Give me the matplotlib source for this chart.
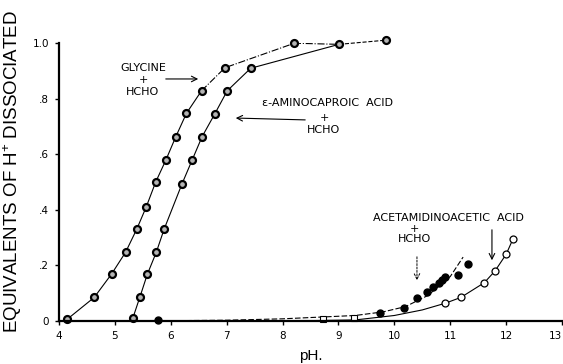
import matplotlib
matplotlib.use("Agg")
import matplotlib.pyplot as plt

# ---- data ----
gly_ph = [4.15, 4.63, 4.94, 5.19, 5.39, 5.56, 5.73, 5.91, 6.09, 6.28, 6.55, 6.97, 8.21]
gly_eq = [0.007, 0.085, 0.169, 0.247, 0.330, 0.410, 0.500, 0.578, 0.663, 0.747, 0.828, 0.911, 0.999]

amc_ph = [5.32, 5.45, 5.58, 5.74, 5.88, 6.20, 6.38, 6.56, 6.79, 7.01, 7.43, 9.01, 9.85]
amc_eq = [0.010, 0.088, 0.168, 0.247, 0.330, 0.493, 0.578, 0.663, 0.746, 0.828, 0.909, 0.995, 1.010]

# acetamidinoacetic acid + HCHO (filled)
ach_ph = [5.78, 9.74, 10.17, 10.41, 10.58, 10.70, 10.79, 10.85, 10.91, 11.14, 11.32]
ach_eq = [0.005, 0.030, 0.046, 0.084, 0.105, 0.123, 0.136, 0.147, 0.159, 0.165, 0.205]
ach_curve_ph = [5.3, 7.0, 8.0, 9.3, 9.8, 10.2, 10.6, 11.0, 11.23]
ach_curve_eq = [0.0, 0.003, 0.008, 0.020, 0.033, 0.052, 0.092, 0.160, 0.230]

# acetamidinoacetic acid alone (open)
aca_ph = [10.91, 11.19, 11.61, 11.80, 12.00, 12.12]
aca_eq = [0.064, 0.085, 0.138, 0.180, 0.240, 0.294]
aca_curve_ph = [5.5, 8.0, 9.3, 10.0, 10.5, 10.91, 11.19, 11.61, 11.80, 12.00, 12.12]
aca_curve_eq = [0.0, 0.0, 0.004, 0.020, 0.040, 0.064, 0.085, 0.138, 0.180, 0.240, 0.294]

sq_ph = [8.73, 9.27]
sq_eq = [0.008, 0.012]

x_ticks = [4, 5, 6, 7, 8, 9, 10, 11, 12, 13]
y_ticks = [0, 0.2, 0.4, 0.6, 0.8, 1.0]
y_labels = ["0", ".2", ".4", ".6", ".8", "1.0"]

plt.rcParams["mathtext.default"] = "regular"

fig = plt.figure(figsize=(5.63, 3.64), dpi=100)
ax = fig.add_axes([0.1048, 0.118, 0.8935, 0.764])


def px(x):
    # reference pixel -> pH
    return 4 + (x - 59) / 55.9


def py(y):
    # reference pixel -> equivalents
    return (321 - y) / 278


lw = 0.8
# glycine: solid lower part, dash-dot top
ax.plot(gly_ph[:11], gly_eq[:11], "-", color="k", lw=lw)
ax.plot(gly_ph[10:] + [amc_ph[-2]], gly_eq[10:] + [amc_eq[-2]], "-.", color="k", lw=lw)
ax.plot(gly_ph, gly_eq, "o", ms=5, mfc="0.7", mec="k", mew=1.6, clip_on=False)

ax.plot(amc_ph[:-1], amc_eq[:-1], "-", color="k", lw=lw)
ax.plot(amc_ph[-2:], amc_eq[-2:], "--", color="k", lw=lw, clip_on=False)
ax.plot(amc_ph, amc_eq, "o", ms=5, mfc="0.7", mec="k", mew=1.6, clip_on=False)

ax.plot(ach_curve_ph, ach_curve_eq, "--", color="k", lw=lw, dashes=(5, 2))
ax.plot(ach_ph, ach_eq, "o", ms=5, mfc="k", mec="k", clip_on=False)

ax.plot(aca_curve_ph, aca_curve_eq, "-", color="k", lw=lw)
ax.plot(aca_ph, aca_eq, "o", ms=5, mfc="white", mec="k", mew=0.9)
ax.plot(sq_ph, sq_eq, "s", ms=4, mfc="white", mec="k", mew=0.8, clip_on=False)

ax.set_xlim(4, 13)
ax.set_ylim(0, 1.0)
ax.set_xticks(x_ticks)
ax.set_xticklabels([str(t) for t in x_ticks])
ax.set_yticks(y_ticks)
ax.set_yticklabels(y_labels)
ax.tick_params(direction="out", length=3, width=1, labelsize=7.5, pad=4)
# last pH label sits right at the figure edge
ax.get_xticklabels()[-1].set_horizontalalignment("right")

for s in ["top", "right"]:
    ax.spines[s].set_visible(False)
for s in ["left", "bottom"]:
    ax.spines[s].set_linewidth(1.6)

ax.set_ylabel("EQUIVALENTS OF H$^{+}$ DISSOCIATED", family="Liberation Sans",
              fontsize=13.5)
ax.yaxis.set_label_coords(-0.07, 0.536)
ax.set_xlabel("pH.", family="Liberation Sans", fontsize=11, labelpad=6)

# ---- annotations ----
tf = dict(family="DejaVu Sans", fontsize=8, ha="center", va="center")
ax.text(px(143), py(80), "GLYCINE\n+\nHCHO", linespacing=1.3, **tf)
ax.annotate("", xy=(px(201), py(79)), xytext=(px(163), py(79)),
            arrowprops=dict(arrowstyle="->", lw=0.8, color="k"))

ax.text(px(262), py(103), "\u03b5-AMINOCAPROIC  ACID",
        family="DejaVu Sans", fontsize=8, ha="left", va="center")
ax.text(px(324), py(124), "+\nHCHO", linespacing=1.2, **tf)
ax.annotate("", xy=(px(233), py(118)), xytext=(px(308), py(120)),
            arrowprops=dict(arrowstyle="->", lw=0.8, color="k"))

ax.text(px(373), py(218), "ACETAMIDINOACETIC  ACID",
        family="DejaVu Sans", fontsize=8, ha="left", va="center")
ax.text(px(415), py(234), "+\nHCHO", linespacing=1.1, **tf)
ax.annotate("", xy=(px(417), py(283)), xytext=(px(417), py(254)),
            arrowprops=dict(arrowstyle="->", lw=0.7, color="k", linestyle=(0, (2, 1.5))))
ax.annotate("", xy=(px(492), py(263)), xytext=(px(492), py(227)),
            arrowprops=dict(arrowstyle="->", lw=0.8, color="k"))

fig.savefig("out.png", dpi=100)
